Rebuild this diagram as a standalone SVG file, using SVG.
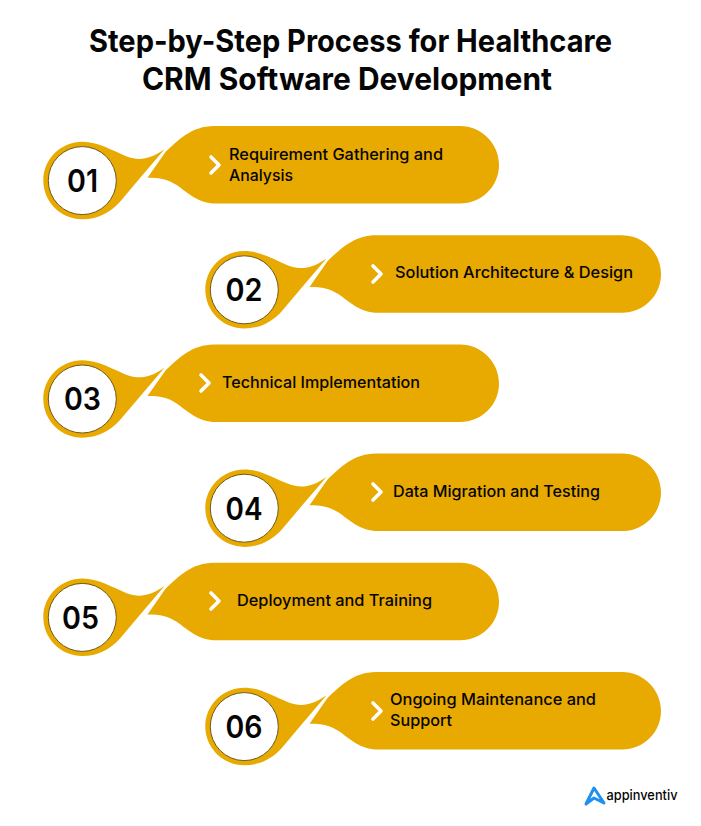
<svg xmlns="http://www.w3.org/2000/svg" width="701" height="826" viewBox="0 0 701 826">
<style>
text{font-family:"Inter","Liberation Sans",sans-serif;fill:#050505}
.title{font-size:31px;font-weight:700;text-anchor:middle}
.lbl{font-size:16px;font-weight:500}
.num{font-size:31px;font-weight:600;text-anchor:middle}
.gold{fill:#E8A900}
.disc{fill:#fff;stroke:#6d5a1e;stroke-width:1}
.chev{fill:none;stroke:#fff;stroke-width:3.6;stroke-linecap:round;stroke-linejoin:round}
</style>
<defs>
<g id="shape">
<path class="gold" d="M82.5 141.8C98 141.8 112 150.5 126.7 156.5C139 161 150 159.5 164.5 149.3L140 178L120 201.7C110 213 97 219.3 82.5 219.3C61 219.3 43.3 202 43.3 180.5C43.3 159 61 141.8 82.5 141.8Z"/>
<path class="gold" d="M147.5 177.7L165.5 152C178 140 192 126 214 126H460C481.5 126 499 143.5 499 165C499 186.5 481.5 203.5 460 203.5H216C198 203.5 188 193 176.7 185C168 179.5 160 177.7 147.5 177.7Z"/>
<circle class="disc" cx="82.3" cy="180.6" r="34"/>
</g>
</defs>
<text class="title" x="350.5" y="52" textLength="523" lengthAdjust="spacingAndGlyphs">Step-by-Step Process for Healthcare</text>
<text class="title" x="347" y="90" textLength="410" lengthAdjust="spacingAndGlyphs">CRM Software Development</text>
<g id="connectors"/>
<g id="node-01"><use href="#shape"/><path class="chev" d="M211 157L219 165L211 173"/><text class="num" x="82.5" y="192" textLength="31" lengthAdjust="spacingAndGlyphs">01</text><text class="lbl" x="229" y="160" textLength="214" lengthAdjust="spacingAndGlyphs">Requirement Gathering and</text><text class="lbl" x="229" y="181" textLength="64" lengthAdjust="spacingAndGlyphs">Analysis</text></g>
<g id="node-02"><use href="#shape" transform="translate(162 109.2)"/><path class="chev" d="M373 266L381 274L373 282"/><text class="num" x="244" y="301" textLength="37" lengthAdjust="spacingAndGlyphs">02</text><text class="lbl" x="395" y="278" textLength="238" lengthAdjust="spacingAndGlyphs">Solution Architecture &amp; Design</text></g>
<g id="node-03"><use href="#shape" transform="translate(0 218.4)"/><path class="chev" d="M201 375L209 383L201 391"/><text class="num" x="82.5" y="410" textLength="37" lengthAdjust="spacingAndGlyphs">03</text><text class="lbl" x="222" y="388" textLength="198" lengthAdjust="spacingAndGlyphs">Technical Implementation</text></g>
<g id="node-04"><use href="#shape" transform="translate(162 327.6)"/><path class="chev" d="M373 484L381 492L373 500"/><text class="num" x="244" y="520" textLength="37" lengthAdjust="spacingAndGlyphs">04</text><text class="lbl" x="393" y="497" textLength="207" lengthAdjust="spacingAndGlyphs">Data Migration and Testing</text></g>
<g id="node-05"><use href="#shape" transform="translate(0 436.8)"/><path class="chev" d="M211 593L219 601L211 609"/><text class="num" x="80.5" y="629" textLength="37" lengthAdjust="spacingAndGlyphs">05</text><text class="lbl" x="237" y="606" textLength="195" lengthAdjust="spacingAndGlyphs">Deployment and Training</text></g>
<g id="node-06"><use href="#shape" transform="translate(162 546)"/><path class="chev" d="M373 703L381 711L373 719"/><text class="num" x="244" y="738" textLength="37" lengthAdjust="spacingAndGlyphs">06</text><text class="lbl" x="390" y="705" textLength="206" lengthAdjust="spacingAndGlyphs">Ongoing Maintenance and</text><text class="lbl" x="390" y="726" textLength="62" lengthAdjust="spacingAndGlyphs">Support</text></g>
<g id="logo"><path fill="none" stroke="#1E90F0" stroke-width="3" stroke-linejoin="round" stroke-linecap="round" d="M586 804L594 788L604 803L594 798Z"/><text x="606.5" y="800" font-size="14" font-weight="500" textLength="71" lengthAdjust="spacingAndGlyphs">appinventiv</text></g>
</svg>
